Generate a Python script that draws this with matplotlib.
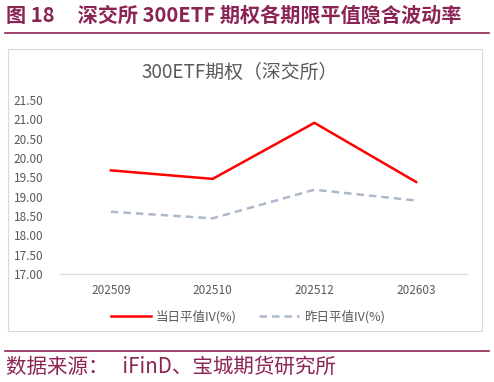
import matplotlib.pyplot as plt
from matplotlib.patches import Rectangle
from matplotlib.lines import Line2D

plt.rcParams['font.family'] = ['Noto Sans CJK SC', 'DejaVu Sans']

# data
months = ['202509', '202510', '202512', '202603']
iv_today = [19.68, 19.46, 20.91, 19.38]
iv_yesterday = [18.61, 18.44, 19.18, 18.90]
y_ticks = [17.0, 17.5, 18.0, 18.5, 19.0, 19.5, 20.0, 20.5, 21.0, 21.5]

maroon = '#8C2355'
label_gray = '#595959'

W, H = 494, 382
fig = plt.figure(figsize=(W / 100, H / 100), dpi=100)


def fx(px):
    return px / W


def fy(py):
    return 1 - py / H


# --- header and footer ---
fig.text(fx(6), fy(15), '图 18     深交所 300ETF 期权各期限平值隐含波动率',
         fontsize=14.5, fontweight='bold', color=maroon, va='center', ha='left')
fig.add_artist(Line2D([fx(5), fx(489)], [fy(32.5), fy(32.5)], color=maroon, lw=1.2))
fig.add_artist(Line2D([fx(5), fx(489)], [fy(351), fy(351)], color=maroon, lw=1.2))
fig.text(fx(6), fy(367), '数据来源：   iFinD、宝城期货研究所',
         fontsize=14.8, color=maroon, va='center', ha='left')

# chart frame
fig.add_artist(Rectangle((fx(8), fy(331)), fx(474), 282 / H, transform=fig.transFigure,
                         fill=False, edgecolor='#D9D9D9', lw=0.8))
fig.text(fx(240), fy(72), '300ETF期权（深交所）', fontsize=13.6,
         color=label_gray, ha='center', va='center')

# --- plot ---
ax = fig.add_axes([fx(60), fy(274), fx(407), 174 / H])
x = range(len(months))
ax.plot(x, iv_today, color='#FF0000', lw=1.8, label='当日平值IV(%)')
ax.plot(x, iv_yesterday, color='#ADB9CA', lw=1.8, ls=(0, (3, 2)), label='昨日平值IV(%)')

ax.set_xlim(-0.5, len(months) - 0.5)
ax.set_ylim(17.0, 21.5)
ax.set_xticks(list(x))
ax.set_xticklabels(months)
ax.set_yticks(y_ticks)
ax.set_yticklabels([f'{v:.2f}' for v in y_ticks])
ax.tick_params(axis='both', length=0, labelsize=8.5, labelcolor=label_gray)
ax.tick_params(axis='y', pad=12)
ax.tick_params(axis='x', pad=7)
for side in ['top', 'right', 'left']:
    ax.spines[side].set_visible(False)
ax.spines['bottom'].set_color('#D9D9D9')
ax.spines['bottom'].set_linewidth(0.8)

fig.legend(loc='center', bbox_to_anchor=(fx(248), fy(317)), ncol=2, frameon=False,
           fontsize=9, labelcolor=label_gray, handlelength=3.2, handletextpad=0.4,
           columnspacing=1.8)

plt.savefig('out.png', dpi=100)
